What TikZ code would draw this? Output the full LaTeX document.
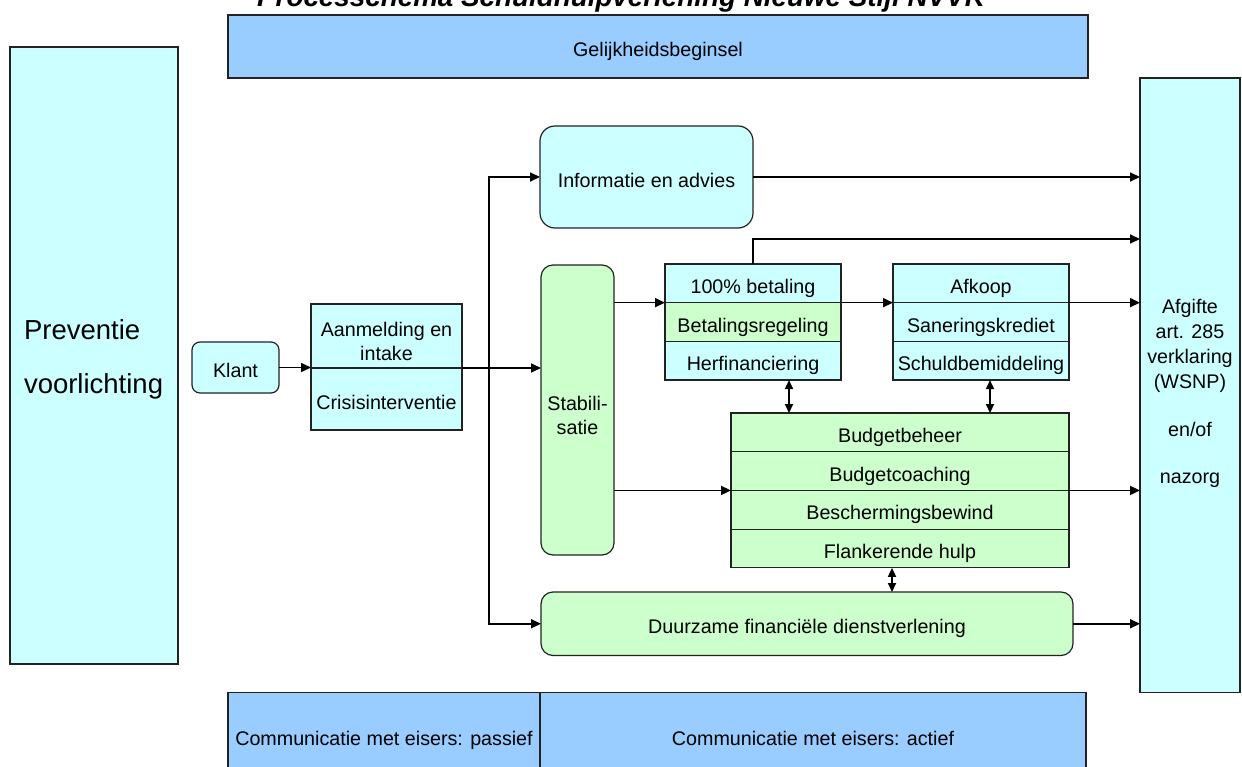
\documentclass[tikz,border=0pt]{standalone}
\usepackage{fontspec}
\setmainfont{Liberation Sans}
\usetikzlibrary{positioning,arrows.meta}
\definecolor{PSCyan}{HTML}{CCFFFF}
\definecolor{PSGreen}{HTML}{CCFFCC}
\definecolor{PSBlue}{HTML}{99CCFF}
\definecolor{PSLine}{HTML}{222222}
\tikzset{
  psBase/.style={
    font=\fontsize{19.7pt}{24pt}\selectfont,
    align=center,
    inner sep=2pt,
    outer sep=0pt,
    line width=1.2pt,
    draw=PSLine,
    text=black
  },
  psLift/.style={
    text height=24.4pt,
    text depth=4.1pt
  },
  psCyan/.style={
    psBase,
    fill=PSCyan
  },
  psGreen/.style={
    psBase,
    fill=PSGreen
  },
  psBlue/.style={
    psBase,
    fill=PSBlue
  },
  psRow/.style={
    psLift,
    minimum width=176pt,
    minimum height=38.7pt
  },
  psArrow/.style={
    line width=1.7pt,
    color=black,
    -{Triangle[length=10pt,width=9pt]}
  },
  psDouble/.style={
    line width=1.7pt,
    color=black,
    {Triangle[length=9pt,width=8pt]}-{Triangle[length=9pt,width=8pt]}
  }
}

\begin{document}
\begin{tikzpicture}[x=1pt, y=-1pt, node distance=0pt]
        \useasboundingbox (0,0) rectangle (1242,767);

        \node (titel) [anchor=base, font=\fontsize{27.8pt}{30pt}\selectfont\bfseries\itshape] at (621,7) {Processchema Schuldhulpverlening Nieuwe Stijl NVVK};
        \node (gelijk) [psBlue, psLift, minimum width=860pt, minimum height=63pt] at (658,46.5) {Gelijkheidsbeginsel};

        \node (prev) [psCyan, minimum height=617pt, text width=140pt, inner xsep=14pt, align=left,
          font=\fontsize{27.5pt}{54pt}\selectfont] at (94,355.5) {\rule{0pt}{28pt}Preventie\\voorlichting};
        \node (klant) [psCyan, psLift, rounded corners=8pt, minimum width=87pt, minimum height=51pt] at (235.5,367.5) {Klant};

        \node (aanm) [psCyan, minimum width=151pt, minimum height=64pt] at (386.5,336) {\rule{0pt}{24.4pt}Aanmelding en\\intake};
        \node (crisis) [psCyan, psLift, minimum width=151pt, minimum height=62pt, below=of aanm] {Crisisinterventie};

        \node (info) [psCyan, psLift, rounded corners=15pt, minimum width=213pt, minimum height=102pt] at (646.5,177) {Informatie en advies};
        \node (stab) [psGreen, rounded corners=12pt, minimum width=73pt, minimum height=290pt] at (577.5,410) {\rule{0pt}{24.4pt}Stabili-\\satie};

        \node (betaal) [psCyan, psRow] at (753,283.3) {100\% betaling};
        \node (regeling) [psGreen, psRow, below=of betaal] {Betalingsregeling};
        \node (herfin) [psCyan, psRow, below=of regeling] {Herfinanciering};

        \node (afkoop) [psCyan, psRow] at (981,283.3) {Afkoop};
        \node (sanering) [psCyan, psRow, below=of afkoop] {Saneringskrediet};
        \node (schuld) [psCyan, psRow, below=of sanering] {Schuldbemiddeling};

        \node (bbeheer) [psGreen, psRow, minimum width=338pt] at (900,432.4) {Budgetbeheer};
        \node (bcoach) [psGreen, psRow, minimum width=338pt, below=of bbeheer] {Budgetcoaching};
        \node (bbewind) [psGreen, psRow, minimum width=338pt, below=of bcoach] {Beschermingsbewind};
        \node (flank) [psGreen, psRow, minimum width=338pt, below=of bbewind] {Flankerende hulp};

        \node (duur) [psGreen, psLift, rounded corners=12pt, minimum width=532pt, minimum height=63.5pt] at (807,623.75) {Duurzame financiële dienstverlening};

        \node (afgifte) [psCyan, minimum width=100pt, minimum height=614.5pt,
          font=\fontsize{19.7pt}{25pt}\selectfont] at (1190,385.25)
          {\rule{0pt}{30.4pt}Afgifte\\art. 285\\verklaring\\(WSNP)\\[23pt]en/of\\[22pt]nazorg};

        \node (passief) [psBlue, psLift, minimum width=312pt, minimum height=85pt] at (384,735.2) {Communicatie met eisers: passief};
        \node (actief) [psBlue, psLift, minimum width=546pt, minimum height=85pt] at (813,735.2) {Communicatie met eisers: actief};

        \coordinate (split) at (489,368);
        \coordinate (boven) at (753,239);

        \draw [psArrow] (klant.east) -- (klant.east -| aanm.west);
        \draw [psArrow] (aanm.south east) -- (aanm.south east -| stab.west);
        \draw [psArrow] (split) |- (info.west);
        \draw [psArrow] (split) |- (duur.west);
        \draw [psArrow] (info.east) -- (info.east -| afgifte.west);
        \draw [psArrow] (stab.east |- betaal.south) -- (betaal.south west);
        \draw [psArrow] (betaal.south east) -- (afkoop.south west);
        \draw [psArrow] (afkoop.south east) -- (afkoop.south east -| afgifte.west);
        \draw [psArrow] (betaal.north) -- (boven) -- (boven -| afgifte.west);
        \draw [psDouble] ([xshift=36pt]herfin.south) -- ([xshift=36pt]herfin.south |- bbeheer.north);
        \draw [psDouble] ([xshift=9pt]schuld.south) -- ([xshift=9pt]schuld.south |- bbeheer.north);
        \draw [psArrow] (stab.east |- bcoach.south) -- (bcoach.south west);
        \draw [psArrow] (bcoach.south east) -- (bcoach.south east -| afgifte.west);
        \draw [psDouble] ([xshift=-8pt]flank.south) -- ([xshift=-8pt]flank.south |- duur.north);
        \draw [psArrow] (duur.east) -- (duur.east -| afgifte.west);
      \end{tikzpicture}
\end{document}
